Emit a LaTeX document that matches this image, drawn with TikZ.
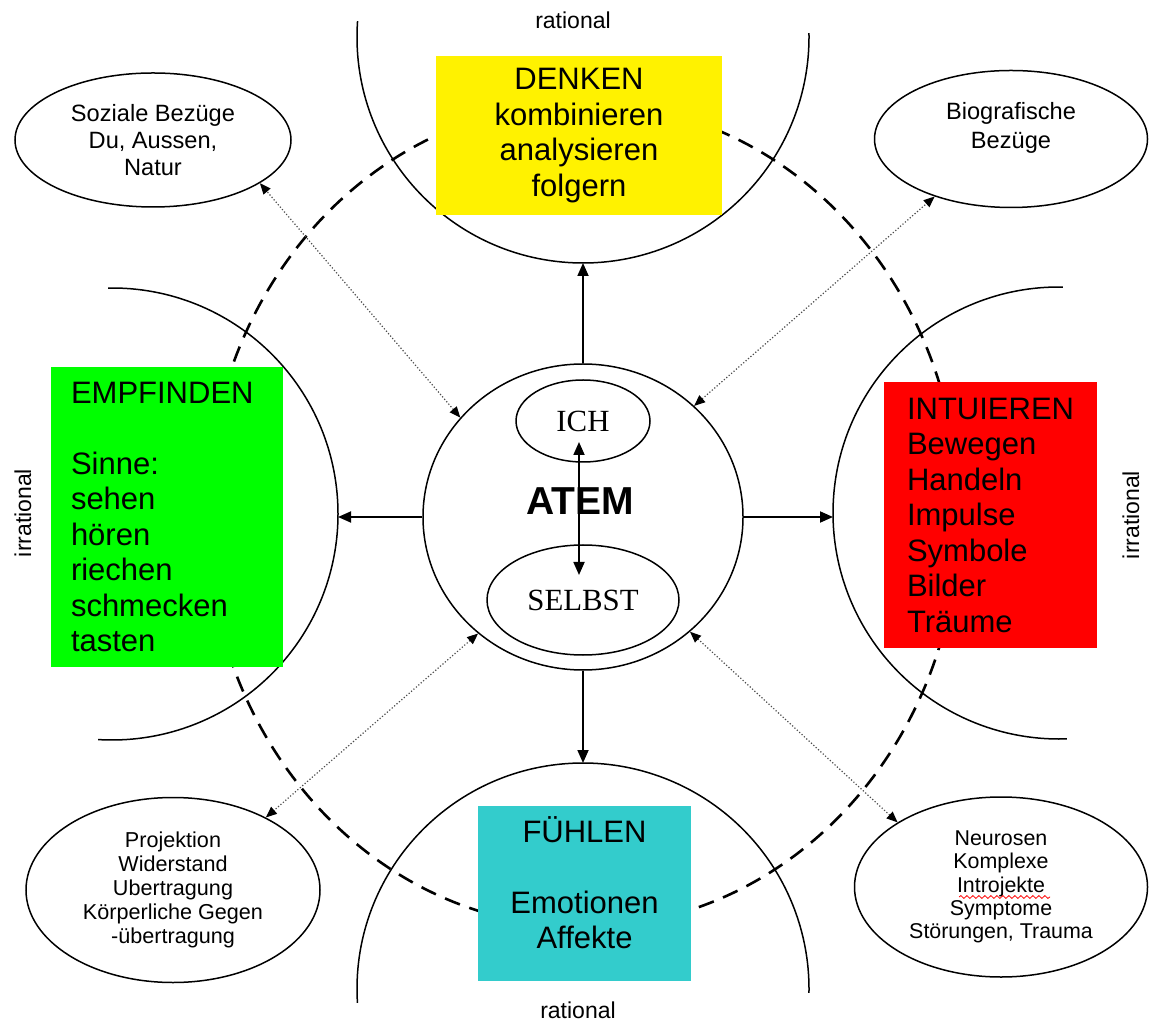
\documentclass[tikz,border=0pt]{standalone}
\usepackage{fontspec}
\setmainfont{Liberation Sans}
\newfontfamily\ichfont{Liberation Serif}
\usetikzlibrary{arrows.meta,shapes.geometric,decorations.pathmorphing}
\definecolor{fuehlcyan}{HTML}{33CCCC}

\begin{document}
\begin{tikzpicture}[x=0.5pt, y=0.5pt,
      >={Triangle[length=6.5pt,width=5.5pt]},
      rim/.style={
        line width=0.75pt
      },
      orbit/.style={
        line width=1.3pt,
        dash pattern=on 8pt off 5pt
      },
      axis/.style={
        ->,
        line width=0.9pt
      },
      link/.style={
        {Triangle[length=5.5pt,width=4.5pt,color=black]}-{Triangle[length=5.5pt,width=4.5pt,color=black]},
        densely dotted,
        line width=0.6pt,
        black!70
      },
      func/.style={
        inner sep=0pt,
        font=\fontsize{15.5}{17.75}\selectfont
      },
      sphere/.style={
        draw,
        ellipse,
        inner sep=0pt,
        line width=0.75pt,
        align=center
      },
      side/.style={
        font=\fontsize{11.5}{13}\selectfont
      },
    ]

    \useasboundingbox (0,0) rectangle (1149,1023);

    \draw [orbit] (583,508) circle [x radius=376, y radius=412];

    \draw [rim] (583,986) ++(176:226) arc [start angle=176, end angle=361, radius=226];
    \draw [rim] (583,34) ++(183.5:226) arc [start angle=183.5, end angle=-1, radius=226];
    \draw [rim] (112,509) ++(91:226) arc [start angle=91, end angle=-93.5, radius=226];
    \draw [rim] (1059,510) ++(89:226) arc [start angle=89, end angle=272, radius=226];

    \coordinate (denkfoot) at (583,760);
    \coordinate (fuehltop) at (583,260);
    \coordinate (sensearc) at (338,509);
    \coordinate (intuarc) at (833,510);

    \node [func, fill=yellow, minimum width=143pt, minimum height=79.5pt,
      align=center] (denken) at (579,887.5)
      {DENKEN\\kombinieren\\analysieren\\folgern};
    \node [func, fill=green, text width=96pt, inner xsep=10pt,
      minimum height=150pt, align=left] (empfinden) at (167,506)
      {EMPFINDEN\\[17.75pt]Sinne:\\sehen\\hören\\riechen\\schmecken\\tasten};
    \node [func, fill=red, text width=83.5pt, inner xsep=11.5pt,
      minimum height=133pt, align=left] (intuieren) at (990.5,508)
      {INTUIEREN\\Bewegen\\Handeln\\Impulse\\Symbole\\Bilder\\Träume};
    \node [func, fill=fuehlcyan, minimum width=106.5pt, minimum height=87.5pt,
      align=center] (fuehlen) at (584.5,129.5)
      {FÜHLEN\\[17.75pt]Emotionen\\Affekte\\[-7pt]\mbox{}};

    \node [sphere, minimum width=160pt, minimum height=153pt] (atem) at (583,506) {};
    \node [font=\bfseries\fontsize{19.5}{22}\selectfont] (atemtext) at (580,522) {ATEM};
    \node [sphere, minimum width=67pt, minimum height=41pt,
      font=\ichfont\fontsize{15.4}{18}\selectfont] (ich) at (583,602) {ICH};
    \node [sphere, minimum width=96pt, minimum height=55pt,
      font=\ichfont\fontsize{15.4}{18}\selectfont] (selbst) at (583,423) {SELBST};

    \node [sphere, minimum width=138pt, minimum height=67pt,
      font=\fontsize{11.8}{13.5}\selectfont] (sozial) at (153,883)
      {Soziale Bezüge\\Du, Aussen,\\Natur};
    \node [sphere, minimum width=136.5pt, minimum height=68.5pt,
      font=\fontsize{11.8}{14.5}\selectfont] (biografie) at (1011,884)
      {Biografische\\Bezüge\\[-1pt]\mbox{}};
    \node [sphere, minimum width=147pt, minimum height=92.5pt,
      font=\fontsize{10.8}{12}\selectfont] (projektion) at (173,133)
      {Projektion\\Widerstand\\Ubertragung\\Körperliche Gegen\\-übertragung};
    \node [sphere, minimum width=146.5pt, minimum height=90pt,
      font=\fontsize{10.7}{11.7}\selectfont] (neurosen) at (1001,136)
      {Neurosen\\Komplexe\\Introjekte\\Symptome\\Störungen, Trauma};
    \draw [red, line width=0.4pt, decorate,
      decoration={snake, amplitude=0.7pt, segment length=3pt}]
      (959,126) -- (1050,126);

    \node [side] (ratiotop) at (573,1003) {rational};
    \node [side] (ratiobottom) at (578,13) {rational};
    \node [side, rotate=90] (irraleft) at (23,510) {irrational};
    \node [side, rotate=90] (irraright) at (1131,508) {irrational};

    \draw [axis] (atem.north) -- (denkfoot);
    \draw [axis] (atem.south) -- (fuehltop);
    \draw [axis] (atem.west) -- (atem.west -| sensearc);
    \draw [axis] (atem.east) -- (atem.east -| intuarc);
    \draw [axis, <->, shorten <=10.5pt, shorten >=12.5pt]
          ([xshift=-2pt]ich.center) -- ([xshift=-2pt]selbst.center);

    \draw [link] (atem.141) -- (sozial.338);
    \draw [link] (atem.45) -- (biografie.217);
    \draw [link] (atem.228) -- (projektion.38);
    \draw [link] (atem.313) -- (neurosen.148);
\end{tikzpicture}
\end{document}
